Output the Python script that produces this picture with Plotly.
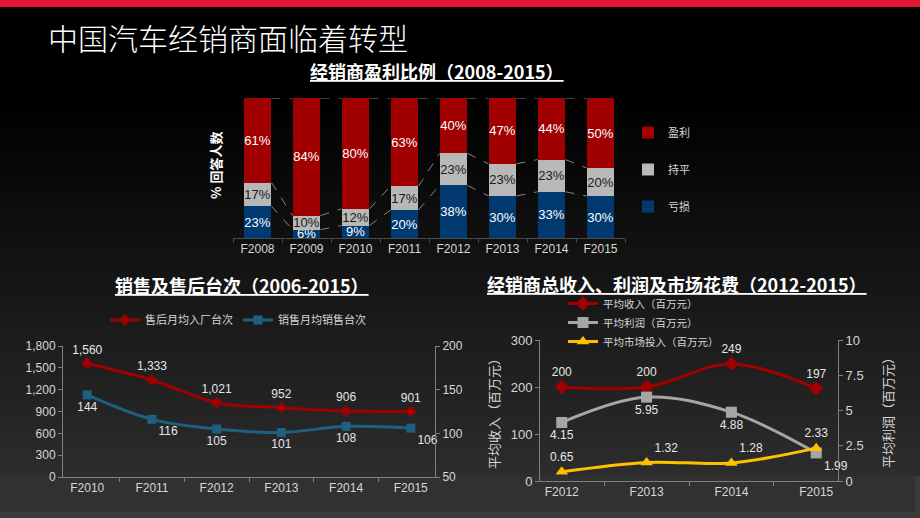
import plotly.graph_objects as go

# ---------------- data ----------------
years_top = ["F2008", "F2009", "F2010", "F2011", "F2012", "F2013", "F2014", "F2015"]
profit_share = [61, 84, 80, 63, 40, 47, 44, 50]
flat_share = [17, 10, 12, 17, 23, 23, 23, 20]
loss_share = [23, 6, 9, 20, 38, 30, 33, 30]

years_ops = ["F2010", "F2011", "F2012", "F2013", "F2014", "F2015"]
aftersales_visits = [1560, 1333, 1021, 952, 906, 901]
sales_units = [144, 116, 105, 101, 108, 106]

years_fin = ["F2012", "F2013", "F2014", "F2015"]
avg_revenue = [200, 200, 249, 197]
avg_profit = [4.15, 5.95, 4.88, 1.99]
avg_marketing = [0.65, 1.32, 1.28, 2.33]

W, H = 920, 518
FONT = "Liberation Sans, Arial, Noto Sans CJK SC"
CJK = "Noto Sans CJK SC, Liberation Sans"
RED = "#a00000"
GRAY = "#b8b8b8"
NAVY = "#003a70"
TEAL = "#1f5f80"
YEL = "#ffc000"
TICK = "#d6d6d6"
AXL = "#7f7f7f"


def px_x(x):
    return x / W


def px_y(y):
    return 1 - y / H


fig = go.Figure()

# ---------------- top: stacked share bars ----------------
BW = 0.57
for name, vals, col, tcol, rank in [("亏损", loss_share, NAVY, "white", 3),
                                    ("持平", flat_share, GRAY, "#1a1a1a", 2),
                                    ("盈利", profit_share, RED, "white", 1)]:
    fig.add_trace(go.Bar(
        x=years_top, y=vals, name=name, marker=dict(color=col, line=dict(width=0)),
        width=BW, text=[f"{v}%" for v in vals], textposition="inside", textangle=0,
        insidetextanchor="middle", constraintext="none",
        textfont=dict(color=tcol, size=13, family=FONT),
        xaxis="x", yaxis="y", legend="legend", legendgroup=name, legendrank=rank,
    ))

# dashed series connector lines (computed from normalized cumulative shares)
shapes = []
tot = [a + b + c for a, b, c in zip(loss_share, flat_share, profit_share)]
lvl1 = [l / t * 100 for l, t in zip(loss_share, tot)]
lvl2 = [(l + f) / t * 100 for l, f, t in zip(loss_share, flat_share, tot)]
lvl3 = [100.0 for _ in tot]
for lv in (lvl1, lvl2, lvl3):
    for i in range(len(years_top) - 1):
        shapes.append(dict(type="line", xref="x", yref="y",
                           x0=i + BW / 2, x1=i + 1 - BW / 2, y0=lv[i], y1=lv[i + 1],
                           line=dict(color="#858585", width=1, dash="dash"), layer="above"))

# ---------------- bottom left: visits ----------------
fig.add_trace(go.Scatter(
    x=years_ops, y=aftersales_visits, name="售后月均入厂台次", mode="lines+markers+text",
    line=dict(color=RED, width=3, shape="spline"), marker=dict(symbol="diamond", size=9, color=RED),
    text=[f"{v:,}" for v in aftersales_visits], textposition="top center",
    textfont=dict(color="#e6e6e6", size=12, family=FONT),
    xaxis="x2", yaxis="y2", legend="legend2", cliponaxis=False,
))
fig.add_trace(go.Scatter(
    x=years_ops, y=sales_units, name="销售月均销售台次", mode="lines+markers+text",
    line=dict(color=TEAL, width=3, shape="spline"), marker=dict(symbol="square", size=9, color=TEAL),
    text=[str(v) for v in sales_units],
    textposition=["bottom center", "bottom right", "bottom center", "bottom center", "bottom center", "bottom right"],
    textfont=dict(color="#e6e6e6", size=12, family=FONT),
    xaxis="x2", yaxis="y3", legend="legend2", cliponaxis=False,
))

# ---------------- bottom right: finance ----------------
fig.add_trace(go.Scatter(
    x=years_fin, y=avg_revenue, name="平均收入（百万元）", mode="lines+markers+text",
    line=dict(color=RED, width=3, shape="spline"), marker=dict(symbol="diamond", size=11, color=RED),
    text=[str(v) for v in avg_revenue], textposition="top center",
    textfont=dict(color="#e6e6e6", size=12, family=FONT),
    xaxis="x3", yaxis="y4", legend="legend3", cliponaxis=False,
))
fig.add_trace(go.Scatter(
    x=years_fin, y=avg_profit, name="平均利润（百万元）", mode="lines+markers+text",
    line=dict(color="#a6a6a6", width=3, shape="spline"), marker=dict(symbol="square", size=11, color="#a6a6a6"),
    text=[f"{v:.2f}" for v in avg_profit],
    textposition=["bottom center", "bottom center", "bottom center", "bottom right"],
    textfont=dict(color="#e6e6e6", size=12, family=FONT),
    xaxis="x3", yaxis="y5", legend="legend3", cliponaxis=False,
))
fig.add_trace(go.Scatter(
    x=years_fin, y=avg_marketing, name="平均市场投入（百万元）", mode="lines+markers+text",
    line=dict(color=YEL, width=3, shape="spline"), marker=dict(symbol="triangle-up", size=11, color=YEL),
    text=[f"{v:.2f}" for v in avg_marketing],
    textposition=["top center", "top right", "top right", "top center"],
    textfont=dict(color="#e6e6e6", size=12, family=FONT),
    xaxis="x3", yaxis="y5", legend="legend3", cliponaxis=False,
))

# ---------------- background ----------------
bg = []
top_black = 100
band_top = 476
n = 60
for k in range(n):
    y0 = k * band_top / n
    y1 = (k + 1) * band_top / n + 0.5
    ym = (y0 + y1) / 2
    g = 0 if ym < top_black else int(round((ym - top_black) / (band_top - top_black) * 44))
    bg.append(dict(type="rect", xref="paper", yref="paper", x0=0, x1=1,
                   y0=px_y(y1), y1=px_y(y0), fillcolor=f"rgb({g},{g},{g})",
                   line=dict(width=0), layer="below"))
bg.append(dict(type="rect", xref="paper", yref="paper", x0=0, x1=px_x(915),
               y0=px_y(512), y1=px_y(band_top), fillcolor="#313131", line=dict(width=0), layer="below"))
bg.append(dict(type="rect", xref="paper", yref="paper", x0=0, x1=1,
               y0=px_y(7), y1=1, fillcolor="#e31837", line=dict(width=0), layer="below"))


# ---------------- annotations ----------------
def note(text, x, y, size, xanchor="center", angle=0, weight=None, family=CJK, color="white"):
    f = dict(family=family, size=size, color=color)
    if weight is not None:
        f["weight"] = weight
    return dict(text=text, x=px_x(x), y=px_y(y), xref="paper", yref="paper",
                xanchor=xanchor, yanchor="middle", showarrow=False, textangle=angle, font=f)


ann = [
    note("中国汽车经销商面临着转型", 46, 37, 30, xanchor="left", weight=300),
    note("<u><b>经销商盈利比例（2008-2015）</b></u>", 437, 71, 18),
    note("<u><b>销售及售后台次（2006-2015）</b></u>", 242, 285, 18),
    note("<u><b>经销商总收入、利润及市场花费（2012-2015）</b></u>", 677, 284, 18),
    note("<b>% 回答人数</b>", 215, 166, 13, angle=-90),
    note("平均收入（百万元）", 493, 410, 13, angle=-90, color=TICK),
    note("平均利润（百万元）", 887, 410, 13, angle=-90, color=TICK),
]

axis_common = dict(showgrid=False, zeroline=False, automargin=False,
                   tickfont=dict(family=FONT, size=12, color=TICK))

fig.update_layout(
    width=W, height=H, margin=dict(l=0, r=0, t=0, b=0, autoexpand=False),
    paper_bgcolor="#3b3b3b", plot_bgcolor="rgba(0,0,0,0)",
    barmode="stack", barnorm="percent", showlegend=True,
    shapes=bg + shapes, annotations=ann,
    font=dict(family=FONT, color=TICK),
    xaxis=dict(domain=[px_x(233), px_x(625)], anchor="y", type="category",
               showline=True, linecolor="#4a4a4a", ticks="outside", tickson="boundaries",
               tickcolor="#4a4a4a", ticklen=4, **axis_common),
    yaxis=dict(domain=[px_y(238), px_y(98)], anchor="x", range=[0, 100], visible=False),
    xaxis2=dict(domain=[px_x(63), px_x(435)], anchor="y2", type="category",
                showline=True, linecolor=AXL, ticks="outside", tickson="boundaries",
                tickcolor=AXL, ticklen=4, **axis_common),
    yaxis2=dict(domain=[px_y(477), px_y(346)], anchor="x2", range=[0, 1800], dtick=300,
                tickformat=",", showline=True, linecolor=AXL, ticks="outside", tickcolor=AXL,
                ticklen=4, **axis_common),
    yaxis3=dict(domain=[px_y(477), px_y(346)], anchor="x2", overlaying="y2", side="right",
                range=[50, 200], dtick=50, showline=True, linecolor=AXL, ticks="outside",
                tickcolor=AXL, ticklen=4, **axis_common),
    xaxis3=dict(domain=[px_x(540), px_x(838)], anchor="y4", type="category",
                showline=True, linecolor=AXL, ticks="outside", tickson="boundaries",
                tickcolor=AXL, ticklen=4, **axis_common),
    yaxis4=dict(domain=[px_y(481), px_y(340)], anchor="x3", range=[0, 300], dtick=100,
                showline=True, linecolor=AXL, ticks="outside", tickcolor=AXL, ticklen=4,
                showgrid=False, zeroline=False, automargin=False,
                tickfont=dict(family=FONT, size=13, color=TICK)),
    yaxis5=dict(domain=[px_y(481), px_y(340)], anchor="x3", overlaying="y4", side="right",
                range=[0, 10], dtick=2.5, showline=True, linecolor=AXL, ticks="outside",
                tickcolor=AXL, ticklen=4,
                showgrid=False, zeroline=False, automargin=False,
                tickfont=dict(family=FONT, size=13, color=TICK)),
    legend=dict(x=px_x(628), y=px_y(118), xanchor="left", yanchor="top", orientation="v",
                traceorder="grouped", tracegroupgap=18, bgcolor="rgba(0,0,0,0)",
                font=dict(family=CJK, size=11, color=TICK), itemwidth=30),
    legend2=dict(x=px_x(238), y=px_y(320), xanchor="center", yanchor="middle", orientation="h",
                 bgcolor="rgba(0,0,0,0)", font=dict(family=CJK, size=11, color=TICK), itemwidth=30),
    legend3=dict(x=px_x(563), y=px_y(289), xanchor="left", yanchor="top", orientation="v",
                 bgcolor="rgba(0,0,0,0)", font=dict(family=CJK, size=10.5, color=TICK),
                 itemwidth=30, tracegroupgap=0),
)

fig.write_html("out.html")
